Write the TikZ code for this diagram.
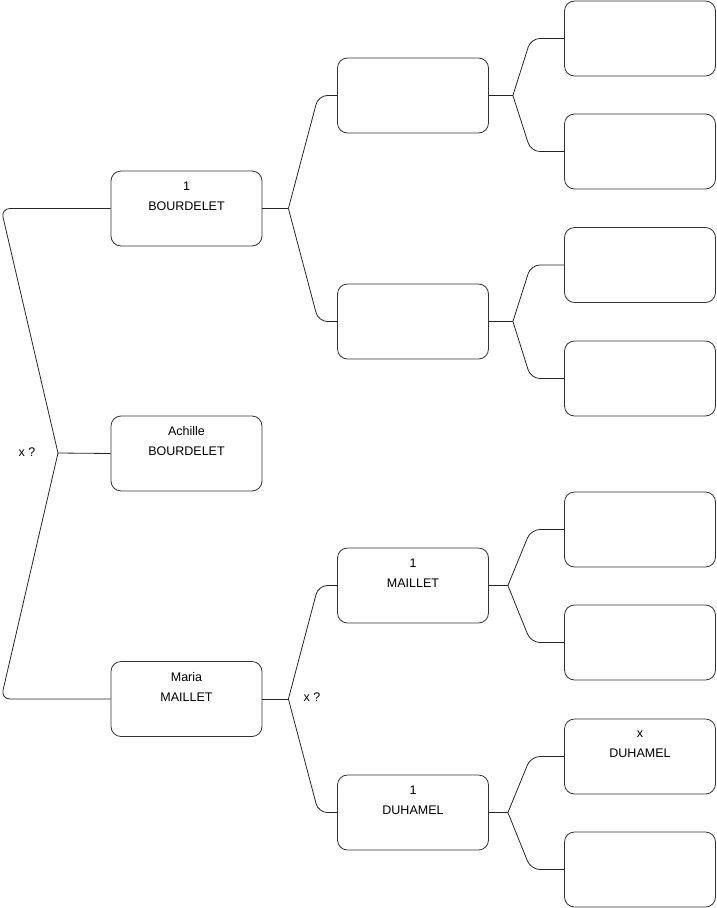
\documentclass[tikz,border=0pt]{standalone}
\usepackage{fontspec}
\setmainfont{Liberation Sans}
\usetikzlibrary{calc}
\newcommand{\lastline}{\rule[-25pt]{0pt}{1pt}}
\begin{document}
\begin{tikzpicture}[x=1pt,y=-1pt,
  box/.style={draw=black!80, line width=0.8pt, rounded corners=10pt, minimum width=151pt, minimum height=75pt, align=center, font=\fontsize{12.5}{20}\selectfont, inner sep=0pt},
  link/.style={draw=black!85, line width=0.8pt},
  elbow/.style={link, rounded corners=9pt},
  lbl/.style={font=\fontsize{12.5}{14}\selectfont, inner sep=0pt}]
\useasboundingbox (0,0) rectangle (716,908);
% generation 1
\node[box] (p) at (186.5,208.5) {1\\BOURDELET\lastline};
\node[box] (ego) at (186.5,453.5) {Achille\\BOURDELET\lastline};
\node[box] (m) at (186.5,699) {Maria\\MAILLET\lastline};
% generation 2
\node[box] (pp) at (413,95.5) {};
\node[box] (pm) at (413,321.5) {};
\node[box] (mp) at (413,585.5) {1\\MAILLET\lastline};
\node[box] (mm) at (413,812.5) {1\\DUHAMEL\lastline};
% generation 3
\node[box] (g1) at (640,38.5) {};
\node[box] (g2) at (640,151.5) {};
\node[box] (g3) at (640,265) {};
\node[box] (g4) at (640,378.5) {};
\node[box] (g5) at (640,529.5) {};
\node[box] (g6) at (640,642.5) {};
\node[box] (g7) at (640,756.5) {x\\DUHAMEL\lastline};
\node[box] (g8) at (640,869.5) {};
% left connector
\coordinate (jL) at (58,453);
\node[lbl] (xl) at (27,452) {x ?};
\draw[link] (ego.west) -- (jL);
\draw[elbow] (jL) -- ([xshift=-57pt]jL |- p.west) -- (p.west);
\draw[elbow] (jL) -- ([xshift=-57pt]jL |- m.west) -- (m.west);
% father side
\coordinate (jP) at ([xshift=26pt]p.east);
\draw[link] (p.east) -- (jP);
\draw[elbow] (jP) -- ([xshift=30pt]jP |- pp.west) -- (pp.west);
\draw[elbow] (jP) -- ([xshift=30pt]jP |- pm.west) -- (pm.west);
% mother side
\coordinate (jM) at ([xshift=26pt]m.east);
\node[lbl] (xm) at (312,697) {x ?};
\draw[link] (m.east) -- (jM);
\draw[elbow] (jM) -- ([xshift=30pt]jM |- mp.west) -- (mp.west);
\draw[elbow] (jM) -- ([xshift=30pt]jM |- mm.west) -- (mm.west);
% generation 2 -> 3
\coordinate (j1) at ([xshift=24pt]pp.east);
\draw[link] (pp.east) -- (j1);
\draw[elbow] (j1) -- ([xshift=18pt]j1 |- g1.west) -- (g1.west);
\draw[elbow] (j1) -- ([xshift=18pt]j1 |- g2.west) -- (g2.west);
\coordinate (j2) at ([xshift=24pt]pm.east);
\draw[link] (pm.east) -- (j2);
\draw[elbow] (j2) -- ([xshift=18pt]j2 |- g3.west) -- (g3.west);
\draw[elbow] (j2) -- ([xshift=18pt]j2 |- g4.west) -- (g4.west);
\coordinate (j3) at ([xshift=19pt]mp.east);
\draw[link] (mp.east) -- (j3);
\draw[elbow] (j3) -- ([xshift=23pt]j3 |- g5.west) -- (g5.west);
\draw[elbow] (j3) -- ([xshift=23pt]j3 |- g6.west) -- (g6.west);
\coordinate (j4) at ([xshift=19pt]mm.east);
\draw[link] (mm.east) -- (j4);
\draw[elbow] (j4) -- ([xshift=23pt]j4 |- g7.west) -- (g7.west);
\draw[elbow] (j4) -- ([xshift=23pt]j4 |- g8.west) -- (g8.west);
\end{tikzpicture}
\end{document}
